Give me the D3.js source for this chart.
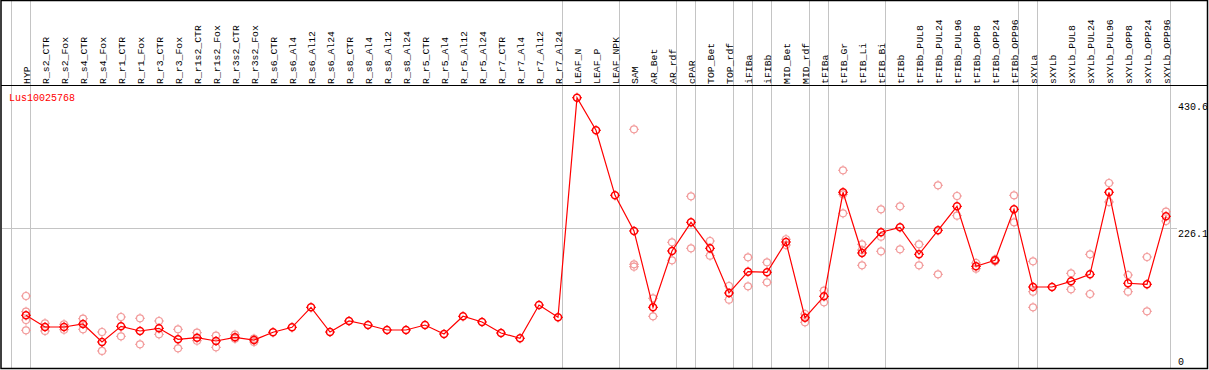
<!DOCTYPE html>
<meta charset="utf-8">
<style>
  body { margin: 0; background: #fff; }
  text { font-family: "Liberation Mono", "DejaVu Sans Mono", monospace; }
</style>
<body>
<div id="chart"></div>
<script src="https://d3js.org/d3.v7.min.js"></script>
<script>

var geneName = "Lus10025768";

var categories = [
  "HYP", "R_s2_CTR", "R_s2_Fox", "R_s4_CTR", "R_s4_Fox", "R_r1_CTR", "R_r1_Fox",
  "R_r3_CTR", "R_r3_Fox", "R_r1s2_CTR", "R_r1s2_Fox", "R_r3s2_CTR", "R_r3s2_Fox",
  "R_s6_CTR", "R_s6_Al4", "R_s6_Al12", "R_s6_Al24", "R_s8_CTR", "R_s8_Al4",
  "R_s8_Al12", "R_s8_Al24", "R_r5_CTR", "R_r5_Al4", "R_r5_Al12", "R_r5_Al24",
  "R_r7_CTR", "R_r7_Al4", "R_r7_Al12", "R_r7_Al24", "LEAF_N", "LEAF_P", "LEAF_NPK",
  "SAM", "AR_Bet", "AR_rdf", "cPAR", "TOP_Bet", "TOP_rdf", "iFIBa", "iFIBb",
  "MID_Bet", "MID_rdf", "tFIBa", "tFIB_Gr", "tFIB_Li", "tFIB_Bi", "tFIBb",
  "tFIBb_PUL8", "tFIBb_PUL24", "tFIBb_PUL96", "tFIBb_OPP8", "tFIBb_OPP24", "tFIBb_OPP96",
  "sXYLa", "sXYLb", "sXYLb_PUL8", "sXYLb_PUL24", "sXYLb_PUL96", "sXYLb_OPP8",
  "sXYLb_OPP24", "sXYLb_OPP96"
];

// mean expression per sample
var means = [
  85.1, 66.2, 66.2, 71.1, 42.0, 67.3, 59.8, 64.1, 46.4, 48.9, 43.6, 49.6, 45.2,
  57.7, 65.7, 98.0, 58.1, 75.9, 69.4, 61.4, 61.4, 69.4, 54.9, 83.5, 74.3,
  56.5, 48.0, 101.7, 81.9, 436.5, 383.9, 278.9,
  221.3, 98.0, 189.0, 235.3, 193.3, 121.1, 155.5, 154.6,
  203.5, 81.2, 115.8, 283.8, 185.7, 219.2, 227.2,
  183.6, 222.4, 261.1, 164.2, 173.9, 256.3,
  130.8, 130.8, 140.0, 151.3, 283.8, 136.8, 135.2, 245.0
];

// individual replicates
var replicates = [
  [116.3, 90.9, 77.5, 60.9], [72.2, 59.8], [70.6, 61.9], [79.6, 62.5], [58.1, 27.5],
  [82.4, 51.2], [80.3, 38.3], [75.9, 54.4], [62.5, 31.8], [57.0, 44.1], [52.2, 33.4],
  [53.8, 47.3], [47.3, 42.0],
  [], [], [], [], [], [], [], [], [], [], [], [], [], [], [], [],
  [], [], [],
  [385.5, 167.5, 163.6], [112.6, 83.5], [203.0, 173.9], [277.3, 193.3], [205.1, 181.4],
  [132.4, 110.3], [178.8, 131.9], [170.7, 138.4],
  [207.9, 198.6], [87.2, 73.8], [124.8, 106.1], [319.3, 249.8, 280.5],
  [199.8, 165.9, 190.6], [256.3, 188.5, 212.1], [261.1, 191.7],
  [199.8, 165.9], [295.1, 151.3], [277.8, 246.0], [169.6, 160.4], [175.5, 172.3], [278.9, 235.3],
  [172.3, 123.2, 98.0], [], [152.9, 127.1], [183.6, 119.5], [298.8, 268.1], [150.2, 123.2],
  [179.3, 91.6], [252.4, 237.4]
];

// group separators drawn after these sample indices
var separators = [-1, 0, 28, 31, 34, 35, 37, 38, 39, 41, 42, 45, 52, 53, 60];

var axisLabels = [0, 226.1, 430.6];
var gridValues = [226.1];

var W = 1209, H = 370;
var headerY = 85, plotBottom = 368;

var svg = d3.select("#chart").append("svg")
    .attr("width", W)
    .attr("height", H);

var x = d3.scalePoint()
    .domain(categories)
    .range([26, 1166]);
var step = x.step();

var y = d3.scaleLinear()
    .domain([0, 452.2])
    .range([plotBottom, headerY + 3]);

// separators
svg.append("g").selectAll("line")
    .data(separators)
  .enter().append("line")
    .attr("x1", function(d){ return Math.round(x(categories[0]) + d * step + 4.3) + 0.5; })
    .attr("x2", function(d){ return Math.round(x(categories[0]) + d * step + 4.3) + 0.5; })
    .attr("y1", 0)
    .attr("y2", plotBottom)
    .attr("stroke", "#c4c4c4")
    .attr("stroke-width", 1);

// horizontal grid
svg.append("g").selectAll("line")
    .data(gridValues)
  .enter().append("line")
    .attr("x1", 2)
    .attr("x2", 1177)
    .attr("y1", function(d){ return Math.round(y(d)) + 0.5; })
    .attr("y2", function(d){ return Math.round(y(d)) + 0.5; })
    .attr("stroke", "#c4c4c4")
    .attr("stroke-width", 1);

// frame + header line
svg.append("rect")
    .attr("x", 1).attr("y", 0.5)
    .attr("width", 1206.5).attr("height", plotBottom)
    .attr("fill", "none")
    .attr("stroke", "#000")
    .attr("stroke-width", 1.5);
svg.append("line")
    .attr("x1", 1).attr("x2", 1208)
    .attr("y1", headerY + 0.5).attr("y2", headerY + 0.5)
    .attr("stroke", "#000");

// column labels
svg.append("g").selectAll("text")
    .data(categories)
  .enter().append("text")
    .attr("transform", function(d){ return "translate(" + (x(d) + 4) + "," + (headerY - 1) + ") rotate(-90)"; })
    .attr("font-size", "9.8px")
    .attr("fill", "#000")
    .text(function(d){ return d; });

// gene name
svg.append("text")
    .attr("x", 9)
    .attr("y", 101)
    .attr("font-size", "10px")
    .attr("fill", "#ff0000")
    .text(geneName);

// value labels on the right
svg.append("g").selectAll("text")
    .data(axisLabels)
  .enter().append("text")
    .attr("x", 1178)
    .attr("y", function(d){ return Math.min(y(d) + 9, 365); })
    .attr("font-size", "10px")
    .attr("fill", "#000")
    .text(function(d){ return d === 0 ? "0" : d3.format(".1f")(d); });

function marker(g, color, w) {
  g.append("circle")
    .attr("r", 3.5)
    .attr("fill", "none")
    .attr("stroke", color)
    .attr("stroke-width", w);
  g.append("path")
    .attr("d", "M0,-3.5V-5M0,3.5V5M-3.5,0H-5M3.5,0H5")
    .attr("stroke", color)
    .attr("stroke-width", 1);
}

// replicates
var reps = [];
replicates.forEach(function(r, i){
  r.forEach(function(v){ reps.push({ c: categories[i], v: v }); });
});
svg.append("g").selectAll("g")
    .data(reps)
  .enter().append("g")
    .attr("transform", function(d){ return "translate(" + x(d.c) + "," + y(d.v) + ")"; })
    .each(function(){ marker(d3.select(this), "#f29b9b", 1.2); });

// mean line
var line = d3.line()
    .x(function(d, i){ return x(categories[i]); })
    .y(function(d){ return y(d); });
svg.append("path")
    .datum(means)
    .attr("d", line)
    .attr("fill", "none")
    .attr("stroke", "#ff0000")
    .attr("stroke-width", 1.2);

svg.append("g").selectAll("g")
    .data(means)
  .enter().append("g")
    .attr("transform", function(d, i){ return "translate(" + x(categories[i]) + "," + y(d) + ")"; })
    .each(function(){ marker(d3.select(this), "#ff0000", 1.5); });

</script>
</body>
